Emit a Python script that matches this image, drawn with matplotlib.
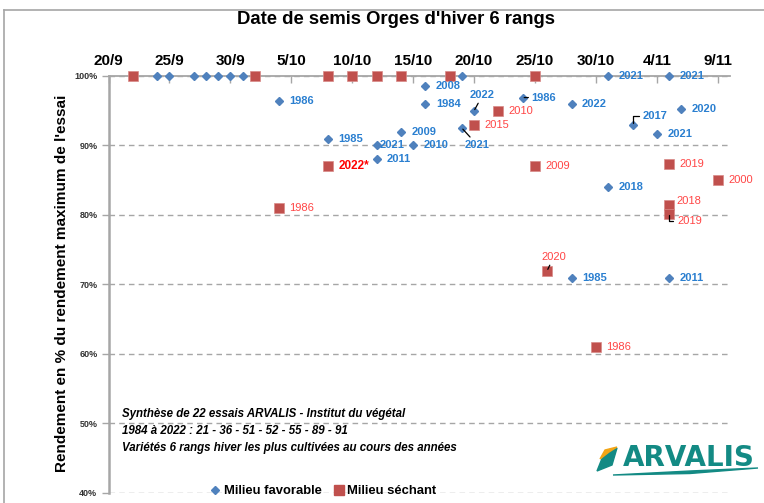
import datetime as dt
import matplotlib.pyplot as plt
from matplotlib.lines import Line2D
from matplotlib.patches import Polygon

plt.rcParams['font.family'] = ['Liberation Sans', 'DejaVu Sans']

# ---- data ----
fav_dates = ['24/9', '25/9', '27/9', '28/9', '29/9', '30/9', '1/10', '4/10', '8/10',
             '12/10', '12/10', '14/10', '15/10', '16/10', '16/10', '19/10', '19/10',
             '20/10', '24/10', '28/10', '28/10', '31/10', '31/10', '2/11', '4/11',
             '5/11', '5/11', '6/11']
fav_yield = [100, 100, 100, 100, 100, 100, 100, 96.4, 91.0,
             90.0, 88.0, 91.9, 90.0, 98.5, 95.9, 100, 92.5,
             95.0, 96.9, 95.9, 71.0, 100, 84.0, 93.0, 91.6,
             100, 71.0, 95.3]
fav_years = ['', '', '', '', '', '', '', '1986', '1985',
             '2021', '2011', '2009', '2010', '2008', '1984', '', '2021',
             '2022', '1986', '2022', '1985', '2021', '2018', '2017', '2021',
             '2021', '2011', '2020']

dry_dates = ['22/9', '2/10', '8/10', '10/10', '12/10', '14/10', '18/10', '25/10',
             '4/10', '8/10', '20/10', '22/10', '25/10', '26/10', '30/10',
             '5/11', '5/11', '5/11', '9/11']
dry_yield = [100, 100, 100, 100, 100, 100, 100, 100,
             81.0, 87.0, 93.0, 95.0, 87.0, 72.0, 61.0,
             87.4, 81.5, 80.2, 85.0]
dry_years = ['', '', '', '', '', '', '', '',
             '1986', '2022*', '2015', '2010', '2009', '2020', '1986',
             '2019', '2018', '2019', '2000']

tick_dates = ['20/9', '25/9', '30/9', '5/10', '10/10', '15/10', '20/10',
              '25/10', '30/10', '4/11', '9/11']
y_ticks = [40, 50, 60, 70, 80, 90, 100]

start = dt.date(2021, 9, 20)


def to_day(s):
    d, m = s.split('/')
    return (dt.date(2021, int(m), int(d)) - start).days


fav_x = [to_day(s) for s in fav_dates]
dry_x = [to_day(s) for s in dry_dates]
tick_x = [to_day(s) for s in tick_dates]

# ---- label placement (offset in points, alignment, leader line) ----
label_layout = {
    ('fav', 9): dict(off=(2, 0)),
    ('fav', 16): dict(off=(11, -12), ha='center', leader='line'),
    ('fav', 17): dict(off=(6, 11), ha='center', leader='line'),
    ('fav', 18): dict(off=(6, 0), leader='line'),
    ('fav', 23): dict(off=(7.5, 6), leader='elbow'),
    ('dry', 13): dict(off=(4.5, 9.5), ha='center', leader='line'),
    ('dry', 16): dict(off=(5.5, 2.5)),
    ('dry', 17): dict(off=(6, -5.5), leader='elbow'),
}

BLUE = '#4F81BD'
RED = '#C0504D'
BLUE_TXT = '#2A7FD0'
RED_TXT = '#FF4545'
GRID = '#A6A6A6'

W, H = 764, 503
fig = plt.figure(figsize=(W / 100, H / 100), dpi=100)
ax = fig.add_axes([108.5 / W, 10 / H, (730 - 108.5) / W, (493 - 76) / H])


def px(x, y):
    return (x / W, 1 - y / H)


ax.set_xlim(0, 51)
ax.set_ylim(40, 100)

for s in ['bottom', 'right']:
    ax.spines[s].set_visible(False)
ax.spines['top'].set_color(GRID)
ax.spines['top'].set_linewidth(1.3)
ax.spines['left'].set_color(GRID)
ax.spines['left'].set_linewidth(1.8)

ax.set_yticks(y_ticks)
ax.set_yticklabels(['{}%'.format(v) for v in y_ticks], fontsize=6.5,
                   fontweight='bold', color='#333333')
ax.tick_params(axis='y', length=5, color=GRID, width=1, pad=3)
ax.yaxis.grid(True, linestyle=(0, (4, 3)), color=GRID, linewidth=1)
ax.set_axisbelow(True)

ax.xaxis.tick_top()
ax.set_xticks(tick_x)
ax.set_xticklabels(tick_dates, fontsize=11, fontweight='bold')
ax.tick_params(axis='x', direction='in', length=5, color=GRID, width=1, pad=6)

ax.plot(fav_x, fav_yield, linestyle='none', marker='D', markersize=4.2,
        color=BLUE, clip_on=False, zorder=3)
ax.plot(dry_x, dry_yield, linestyle='none', marker='s', markersize=7.5,
        color=RED, markeredgecolor='#D98A88', markeredgewidth=0.5,
        clip_on=False, zorder=3)


def add_labels(key, xs, ys, labels, color, weight):
    for i, (x, y, lab) in enumerate(zip(xs, ys, labels)):
        if not lab:
            continue
        lay = label_layout.get((key, i), {})
        off = lay.get('off', (7.5, 0))
        arrow = None
        if lay.get('leader') == 'line':
            arrow = dict(arrowstyle='-', color='black', lw=0.9, shrinkA=0, shrinkB=1)
        elif lay.get('leader') == 'elbow':
            arrow = dict(arrowstyle='-', color='black', lw=0.9, shrinkA=1, shrinkB=1,
                         relpos=(0, 0.5),
                         connectionstyle='angle,angleA=0,angleB=90,rad=0')
        fw, col, fs = weight, color, 8
        if lab.endswith('*'):
            fw, col, fs = 'bold', '#FF0000', 8.5
        ax.annotate(lab, (x, y), xytext=off, textcoords='offset points',
                    ha=lay.get('ha', 'left'), va='center', fontsize=fs,
                    fontweight=fw, color=col, arrowprops=arrow, zorder=4,
                    annotation_clip=False)


add_labels('fav', fav_x, fav_yield, fav_years, BLUE_TXT, 'bold')
add_labels('dry', dry_x, dry_yield, dry_years, RED_TXT, 'normal')

# title and axis label
fig.text(*px(396, 20), "Date de semis Orges d'hiver 6 rangs", ha='center',
         va='center', fontsize=13.3, fontweight='bold')
fig.text(*px(62, 283), "Rendement en % du rendement maximum de l'essai",
         rotation=90, ha='center', va='center', fontsize=11, fontweight='bold')

# note block
note = ("Synthèse de 22 essais ARVALIS - Institut du végétal\n"
        "1984 à 2022 : 21 - 36 - 51 - 52 - 55 - 89 - 91\n"
        "Variétés 6 rangs hiver les plus cultivées au cours des années")
fig.text(*px(122, 431), note, ha='left', va='center', fontsize=8.3,
         fontweight='bold', fontstyle='italic', linespacing=1.6)

# legend
handles = [Line2D([], [], linestyle='none', marker='D', markersize=3.6, color=BLUE),
           Line2D([], [], linestyle='none', marker='s', markersize=7, color=RED)]
fig.legend(handles, ['Milieu favorable', 'Milieu séchant'], ncol=2, frameon=False,
           loc='center', bbox_to_anchor=px(324, 491),
           prop=dict(weight='bold', size=9.4), handlelength=0.6,
           handletextpad=0.35, columnspacing=1.0, borderpad=0)

# logo
fig.patches.append(Polygon([px(597, 471), px(603, 456), px(617, 448), px(612, 465)],
                           closed=True, color='#138A84', transform=fig.transFigure))
fig.patches.append(Polygon([px(600, 459), px(605, 450), px(617, 447), px(609, 452)],
                           closed=True, color='#F2A516', transform=fig.transFigure))
fig.patches.append(Polygon([px(613, 475), px(690, 471), px(758, 468), px(690, 473.5)],
                           closed=True, color='#138A84', transform=fig.transFigure))
fig.text(*px(689, 458), 'ARVALIS', ha='center', va='center', fontsize=20,
         fontweight='bold', color='#138A84', family='DejaVu Sans')

# outer frame
fig.add_artist(Line2D([4 / W, 1], [1 - 10 / H, 1 - 10 / H], color=GRID, lw=1.2,
                      transform=fig.transFigure))
fig.add_artist(Line2D([4 / W, 4 / W], [0, 1 - 10 / H], color=GRID, lw=1.2,
                      transform=fig.transFigure))

fig.savefig('out.png', dpi=100)
